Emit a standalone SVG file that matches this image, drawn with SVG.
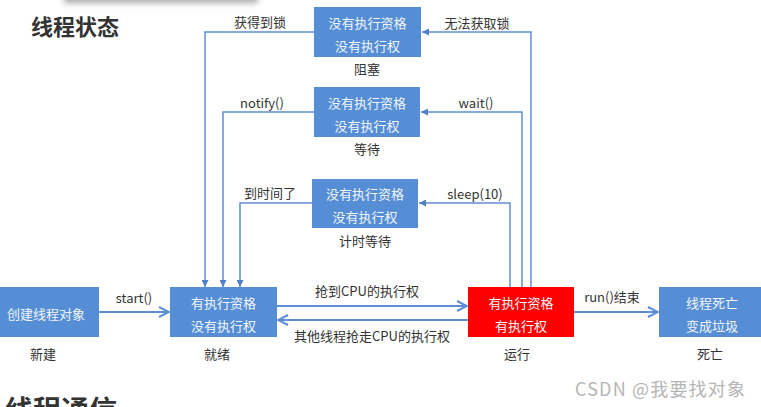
<svg xmlns="http://www.w3.org/2000/svg" width="761" height="407" viewBox="0 0 761 407">
<defs>
<filter id="blur" x="-20%" y="-200%" width="140%" height="500%"><feGaussianBlur stdDeviation="3"/></filter>
<marker id="tri" viewBox="0 0 10 10" refX="10" refY="5" markerWidth="7" markerHeight="7" markerUnits="userSpaceOnUse" orient="auto"><path d="M0,0 L10,5 L0,10 z" fill="#4f80c8"/></marker>
<marker id="chev" viewBox="0 0 12 12" refX="11" refY="6" markerWidth="12" markerHeight="12" markerUnits="userSpaceOnUse" orient="auto"><path d="M1,1 L11,6 L1,11" fill="none" stroke="#5b8ed6" stroke-width="2"/></marker>
</defs>
<style>
.box{fill:#558ED5}
.red{fill:#FF0000}
.bt{font-family:"Noto Sans CJK SC","Liberation Sans",sans-serif;font-size:13px;fill:#f2f6fc;text-anchor:middle}
.lb{font-family:"Noto Sans CJK SC","Liberation Sans",sans-serif;font-size:13px;fill:#333;text-anchor:middle}
.thin{fill:none;stroke:#5f8fd2;stroke-width:1.5}
.thick{fill:none;stroke:#5b8ed6;stroke-width:2.2}
.h{font-family:"Noto Sans CJK SC","Liberation Sans",sans-serif;font-weight:bold;fill:#333}
</style>
<rect width="761" height="407" fill="#fff"/>
<rect x="64" y="-10" width="194" height="13" fill="#aaa" filter="url(#blur)"/>
<text class="h" x="31" y="35" font-size="22">线程状态</text>
<text class="h" x="5" y="421" font-size="28">线程通信</text>

<g id="connectors">
<path class="thick" d="M99,312 H169" marker-end="url(#chev)"/>
<path class="thick" d="M277,306 H467" marker-end="url(#chev)"/>
<path class="thick" d="M468,320 H278" marker-end="url(#chev)"/>
<path class="thick" d="M574,312 H658" marker-end="url(#chev)"/>
<path class="thin" d="M531,287 V32 H422" marker-end="url(#tri)"/>
<path class="thin" d="M522,287 V112 H421" marker-end="url(#tri)"/>
<path class="thin" d="M510,287 V203 H419" marker-end="url(#tri)"/>
<path class="thin" d="M314,32 H205 V287" marker-end="url(#tri)"/>
<path class="thin" d="M314,112 H223 V287" marker-end="url(#tri)"/>
<path class="thin" d="M312,203 H240 V287" marker-end="url(#tri)"/>
<text class="lb" x="260" y="27">获得到锁</text>
<text class="lb" x="477" y="28">无法获取锁</text>
<text class="lb" x="262" y="108">notify()</text>
<text class="lb" x="476" y="108">wait()</text>
<text class="lb" x="270" y="198">到时间了</text>
<text class="lb" x="475" y="199">sleep(10)</text>
<text class="lb" x="134" y="303">start()</text>
<text class="lb" x="367" y="296">抢到CPU的执行权</text>
<text class="lb" x="372" y="341">其他线程抢走CPU的执行权</text>
<text class="lb" x="612" y="302">run()结束</text>
</g>

<g id="blocked">
<rect class="box" x="314" y="7" width="107" height="50"/>
<text class="bt" x="367.5" y="28">没有执行资格</text>
<text class="bt" x="367.5" y="51">没有执行权</text>
<text class="lb" x="367" y="74">阻塞</text>
</g>
<g id="waiting">
<rect class="box" x="314" y="87" width="106" height="50"/>
<text class="bt" x="367" y="108">没有执行资格</text>
<text class="bt" x="367" y="131">没有执行权</text>
<text class="lb" x="367" y="154">等待</text>
</g>
<g id="timed-waiting">
<rect class="box" x="312" y="179" width="106" height="49"/>
<text class="bt" x="365" y="199">没有执行资格</text>
<text class="bt" x="365" y="222">没有执行权</text>
<text class="lb" x="365" y="246">计时等待</text>
</g>
<g id="new">
<rect class="box" x="-8" y="287" width="107" height="50"/>
<text class="bt" x="46" y="319">创建线程对象</text>
<text class="lb" x="43" y="359">新建</text>
</g>
<g id="ready">
<rect class="box" x="170" y="287" width="107" height="50"/>
<text class="bt" x="223.5" y="308">有执行资格</text>
<text class="bt" x="223.5" y="331">没有执行权</text>
<text class="lb" x="217" y="359">就绪</text>
</g>
<g id="running">
<rect class="red" x="468" y="287" width="106" height="50"/>
<text class="bt" x="521" y="308">有执行资格</text>
<text class="bt" x="521" y="331">有执行权</text>
<text class="lb" x="517" y="359">运行</text>
</g>
<g id="dead">
<rect class="box" x="659" y="287" width="106" height="50"/>
<text class="bt" x="712" y="308">线程死亡</text>
<text class="bt" x="712" y="331">变成垃圾</text>
<text class="lb" x="710" y="359">死亡</text>
</g>
<text x="575" y="396" font-family="'Noto Sans CJK SC','Liberation Sans',sans-serif" font-size="18" fill="#b5b5b5" textLength="170">CSDN @我要找对象</text>
</svg>
